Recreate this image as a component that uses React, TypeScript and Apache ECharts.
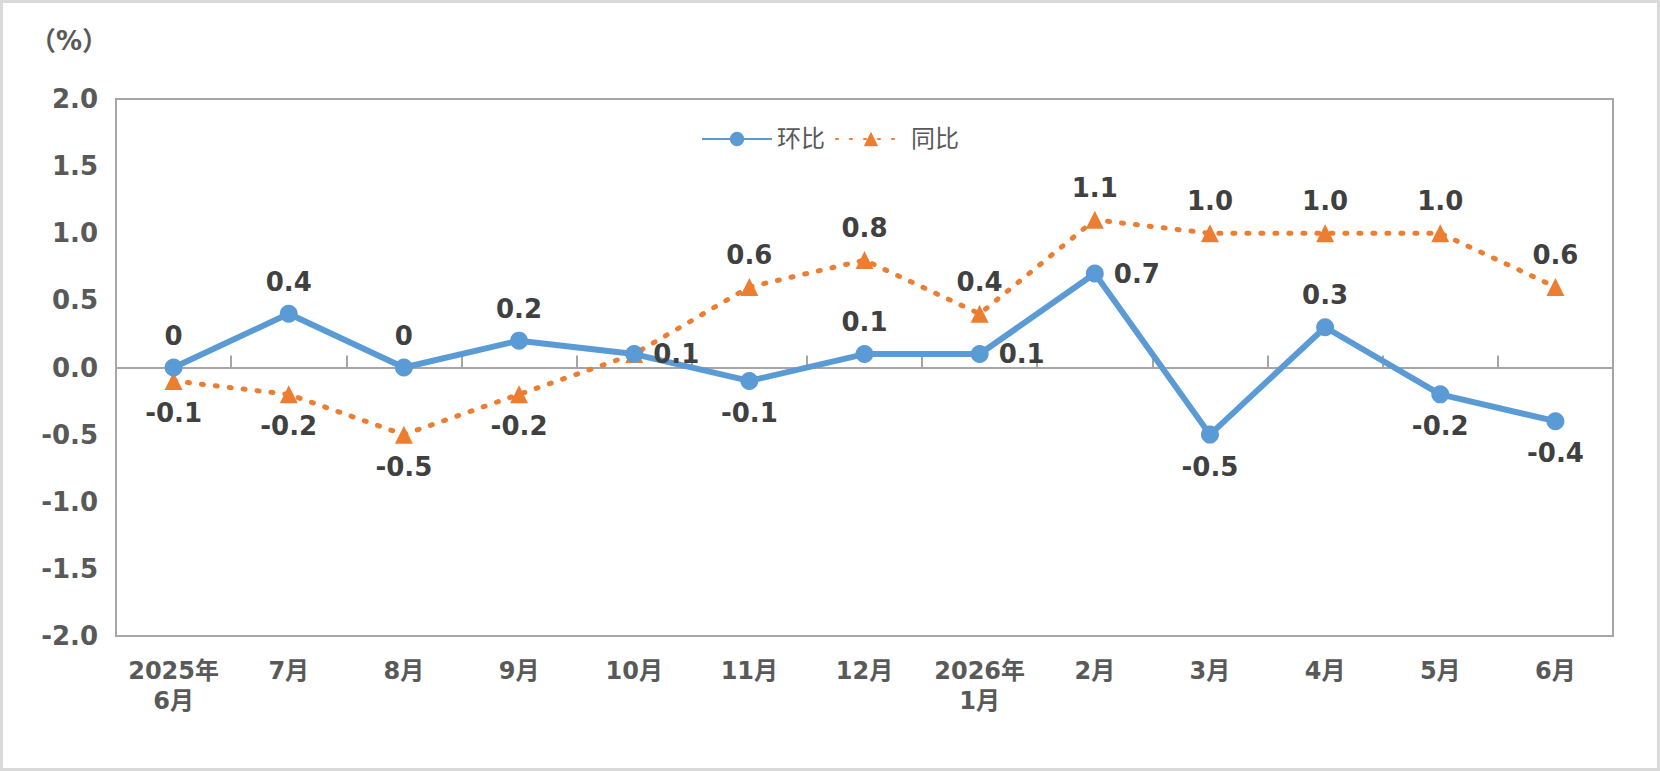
import * as echarts from "echarts";
import { useEffect, useRef } from "react";

const categories = ["2025年\n6月", "7月", "8月", "9月", "10月", "11月", "12月", "2026年\n1月", "2月", "3月", "4月", "5月", "6月"];
const mom = [0, 0.4, 0, 0.2, 0.1, -0.1, 0.1, 0.1, 0.7, -0.5, 0.3, -0.2, -0.4];
const yoy = [-0.1, -0.2, -0.5, -0.2, 0.1, 0.6, 0.8, 0.4, 1.1, 1.0, 1.0, 1.0, 0.6];
const momLabelPos = ["top", "top", "top", "top", "right", "bottom", "top", "right", "right", "bottom", "top", "bottom", "bottom"];
const yoyLabelPos = ["bottom", "bottom", "bottom", "bottom", "none", "top", "top", "top", "top", "top", "top", "top", "top"];

const FONT = "'DejaVu Sans', 'Noto Sans CJK SC', sans-serif";

const fmt = (v: number) => (v === 0 ? "0" : v.toFixed(1));

export default function App() {
  const ref = useRef<HTMLDivElement | null>(null);

  useEffect(() => {
    if (!ref.current) return;
    const chart = echarts.init(ref.current, undefined, { renderer: "svg" });
    const labelBase = { show: true, fontFamily: FONT, fontSize: 26, fontWeight: "bold", color: "#404040", distance: 10 };
    chart.setOption({
      animation: false,
      textStyle: { fontFamily: FONT },
      graphic: [
        { type: "rect", shape: { x: 1.5, y: 1.5, width: 1657, height: 768 }, style: { fill: "none", stroke: "#d9d9d9", lineWidth: 3 } },
        { type: "text", left: 30, top: 28, style: { text: "（%）", fontSize: 26, fontWeight: "bold", fill: "#595959", fontFamily: FONT } },
      ],
      legend: {
        top: 122,
        left: "center",
        itemWidth: 70,
        itemHeight: 18,
        itemGap: 10,
        textStyle: { fontSize: 24, color: "#595959", fontFamily: FONT },
        data: ["环比", "同比"],
      },
      grid: { left: 116, right: 47, top: 99, bottom: 135, show: true, borderColor: "#a6a6a6", borderWidth: 2 },
      xAxis: [
        {
          type: "category",
          data: categories,
          position: "bottom",
          axisLine: { show: false, onZero: false },
          axisTick: { show: false },
          axisLabel: { fontSize: 24, fontWeight: "bold", color: "#595959", margin: 20, lineHeight: 30, fontFamily: FONT, interval: 0 },
        },
        {
          type: "category",
          data: categories,
          position: "bottom",
          axisLine: { show: true, onZero: true, lineStyle: { color: "#a6a6a6", width: 2 } },
          axisTick: { show: true, inside: true, length: 12, lineStyle: { color: "#a6a6a6", width: 2 } },
          axisLabel: { show: false },
        },
      ],
      yAxis: {
        type: "value",
        min: -2,
        max: 2,
        interval: 0.5,
        axisLine: { show: false },
        axisTick: { show: false },
        splitLine: { show: false },
        axisLabel: { fontSize: 26, fontWeight: "bold", color: "#595959", margin: 18, fontFamily: FONT, formatter: (v: number) => v.toFixed(1) },
      },
      series: [
        {
          name: "环比",
          type: "line",
          xAxisIndex: 0,
          color: "#5b9bd5",
          symbol: "circle",
          symbolSize: 18,
          lineStyle: { width: 6, color: "#5b9bd5" },
          z: 3,
          data: mom.map((v, i) => ({ value: v, label: { ...labelBase, position: momLabelPos[i], formatter: fmt(v) } })),
        },
        {
          name: "同比",
          type: "line",
          xAxisIndex: 0,
          color: "#ed7d31",
          symbol: "triangle",
          symbolSize: 18,
          lineStyle: { width: 5, type: [2, 12], cap: "round", color: "#ed7d31" },
          z: 2,
          data: yoy.map((v, i) => ({
            value: v,
            label: yoyLabelPos[i] === "none" ? { show: false } : { ...labelBase, position: yoyLabelPos[i], formatter: fmt(v) },
          })),
        },
      ],
    });
    return () => chart.dispose();
  }, []);

  return <div ref={ref} style={{ position: "absolute", left: 0, top: 0, width: 1660, height: 771, background: "#fff" }} />;
}
